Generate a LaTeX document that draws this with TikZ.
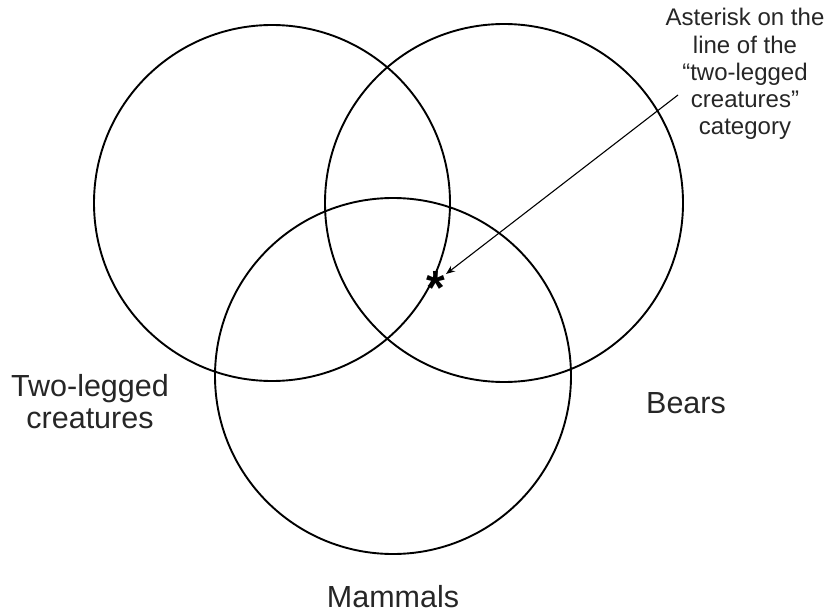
\documentclass[tikz,border=0pt]{standalone}
\usepackage{fontspec}
\setmainfont{Liberation Sans}
\usetikzlibrary{arrows.meta}
\begin{document}
\begin{tikzpicture}[x=1pt,y=-1pt,
  venn/.style={draw=black,line width=1.9pt},
  biglabel/.style={font=\fontsize{30.5}{32}\selectfont,text=black!85,inner sep=0pt,align=center},
  notelabel/.style={font=\fontsize{24}{27.3}\selectfont,text=black!85,inner sep=0pt,align=center},
  pointer/.style={line width=1.1pt,-{Stealth[length=9pt,width=7pt]}}]
\useasboundingbox (0,0) rectangle (830,615);
\draw[venn] (272,203) circle[radius=178];
\draw[venn] (504,203) circle[radius=179];
\draw[venn] (393,376) circle[radius=178];
\node[font=\fontsize{48}{48}\selectfont\bfseries,inner sep=0pt,anchor=base] (star) at (436,304) {*};
\coordinate (tail) at (678,95);
\coordinate (tip) at (446,274);
\draw[pointer] (tail) -- (tip);
\node[notelabel,anchor=base] (note) at (745,135) {Asterisk on the\\line of the\\“two-legged\\creatures”\\category};
\node[biglabel,anchor=base] (two) at (90,428) {Two-legged\\creatures};
\node[biglabel,anchor=base] (bears) at (686,413) {Bears};
\node[biglabel,anchor=base] (mammals) at (393,607) {Mammals};
\end{tikzpicture}
\end{document}
